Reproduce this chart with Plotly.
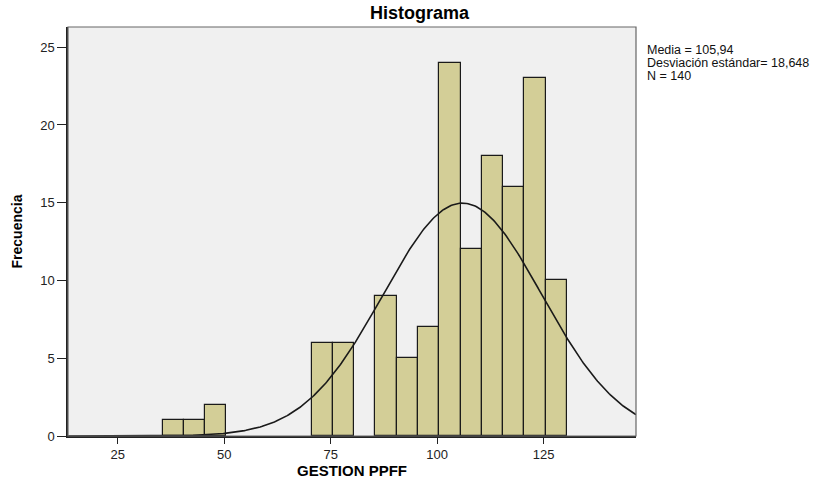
import numpy as np
import plotly.graph_objects as go

# Histogram bins (centre of each 5-wide bin) and frequencies
bin_centers = [38, 43, 48, 73, 78, 88, 93, 98, 103, 108, 113, 118, 123, 128]
frequencies = [1, 1, 2, 6, 6, 9, 5, 7, 24, 12, 18, 16, 23, 10]
bin_width = 5

# Summary statistics shown on the chart
media = 105.94
desviacion = 18.648
n_total = 140

x_ticks = [25, 50, 75, 100, 125]
y_ticks = [0, 5, 10, 15, 20, 25]
x_range = [13.3, 146.7]
y_range = [0, 26.3]

FONT = "Arial, Liberation Sans, sans-serif"

fig = go.Figure()
fig.add_trace(go.Bar(
    x=bin_centers, y=frequencies, width=bin_width,
    marker=dict(color="#d3ce97", line=dict(color="#1a1a1a", width=1.2)),
    showlegend=False, hoverinfo="x+y",
))

# Normal curve from the stated mean / sd / N
xs = np.linspace(x_range[0], x_range[1], 400)
ys = n_total * bin_width / (desviacion * np.sqrt(2 * np.pi)) * np.exp(-0.5 * ((xs - media) / desviacion) ** 2)
fig.add_trace(go.Scatter(x=xs, y=ys, mode="lines",
                         line=dict(color="#1a1a1a", width=1.6),
                         showlegend=False, hoverinfo="skip"))

fig.update_layout(
    width=839, height=483,
    margin=dict(l=68, r=203, t=27, b=47, autoexpand=False),
    paper_bgcolor="white", plot_bgcolor="#f0f0f0",
    font=dict(family=FONT, size=13, color="#222"),
    bargap=0,
    title=dict(text="<b>Histograma</b>", x=0.5, xanchor="center",
               y=1 - 13 / 483, yanchor="middle", yref="container",
               font=dict(family=FONT, size=18, color="#000")),
    xaxis=dict(range=x_range, tickvals=x_ticks, ticks="outside", ticklen=6,
               tickcolor="#222", showgrid=False, zeroline=False,
               showline=True, linecolor="#222", linewidth=1.5,
               tickfont=dict(size=13), automargin=False,
               title=dict(text="<b>GESTION PPFF</b>", standoff=0,
                          font=dict(family=FONT, size=15, color="#000"))),
    yaxis=dict(range=y_range, tickvals=y_ticks, ticks="outside", ticklen=9,
               tickcolor="#222", showgrid=False, zeroline=False,
               showline=True, linecolor="#222", linewidth=1.5,
               tickfont=dict(size=13), automargin=False,
               title=dict(text="<b>Frecuencia</b>", standoff=14,
                          font=dict(family=FONT, size=14, color="#000"))),
)

# Light frame around the plot area
fig.add_shape(type="rect", xref="paper", yref="paper", x0=0, y0=0, x1=1, y1=1,
              line=dict(color="#666", width=1.2), fillcolor="rgba(0,0,0,0)", layer="above")

stats_lines = [f"Media = {media:.2f}".replace(".", ","),
               f"Desviación estándar= {desviacion:.3f}".replace(".", ","),
               f"N = {n_total}"]
plot_h = 483 - 27 - 47
for i, line in enumerate(stats_lines):
    ypix = 50 + i * 13
    fig.add_annotation(text=line, xref="paper", yref="paper",
                       x=(645 - 68) / (839 - 68 - 203), y=(436 - ypix) / plot_h,
                       xanchor="left", yanchor="middle", showarrow=False,
                       font=dict(family=FONT, size=12.5, color="#111"))

fig.write_html("out.html")
